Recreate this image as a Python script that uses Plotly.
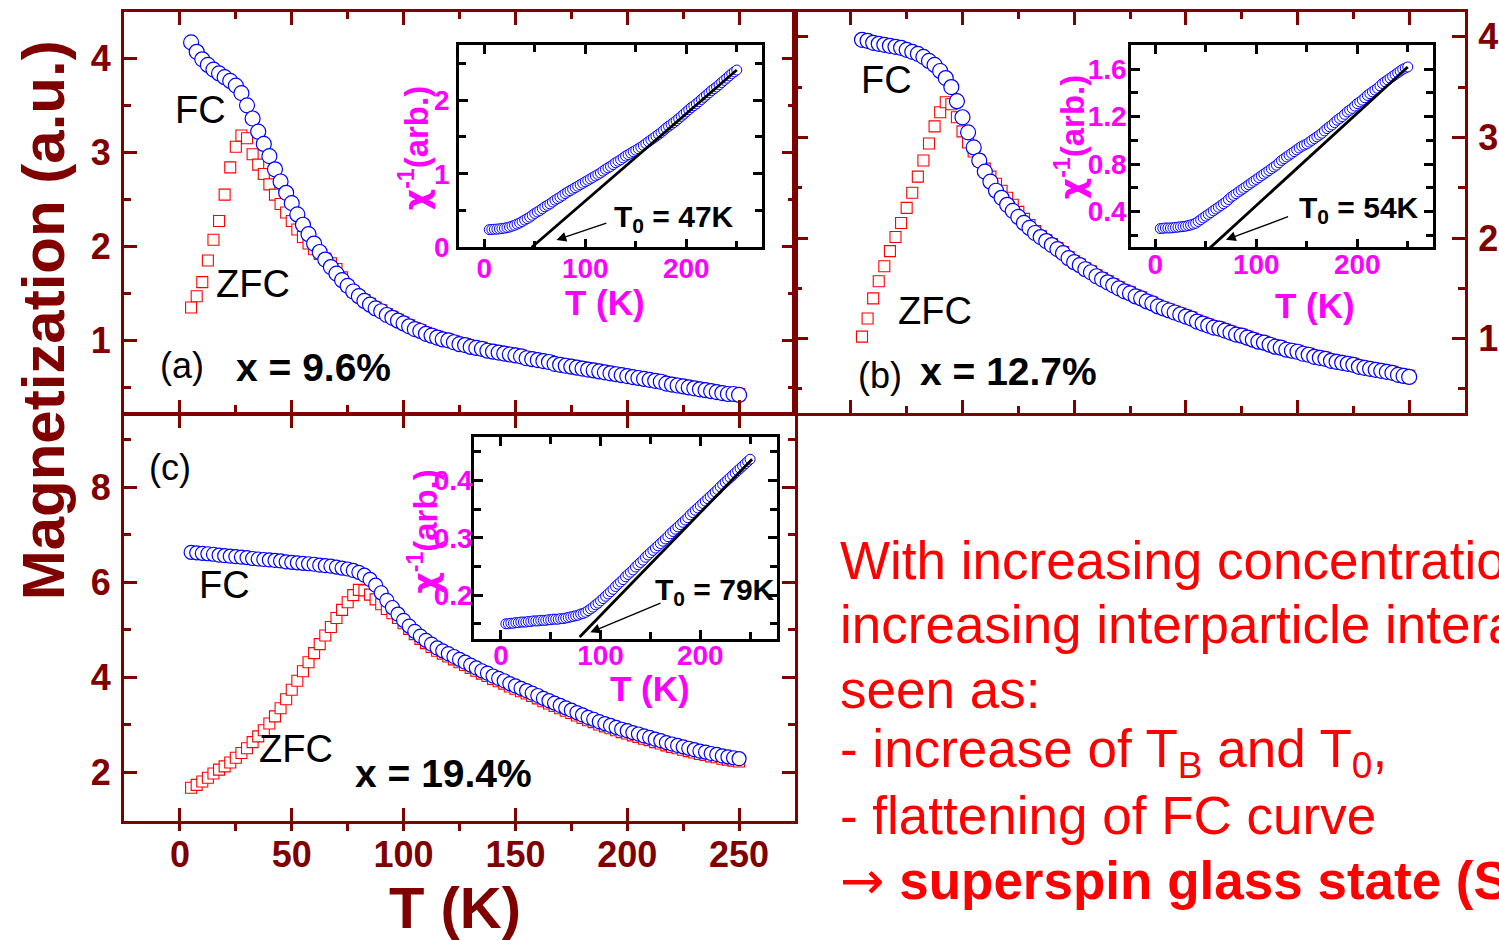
import plotly.graph_objects as go

W, H = 1499, 940          # reference picture size (coordinates below are in its pixels)
FIG_H = 957               # layout height that lands at 940 px in the captured picture
FONT = "Liberation Sans, Arial, sans-serif"
DR = "#800000"
MAG = "#ff00ff"

# ---------------- data ----------------
T_MAIN = [5, 7.5, 10, 12.5, 15, 17.5, 20, 22.5, 25, 27.5,
          30, 32.5, 35, 37.5, 40, 42.5, 45, 47.5, 50, 52.5,
          55, 57.5, 60, 62.5, 65, 67.5, 70, 72.5, 75, 77.5,
          80, 82.5, 85, 87.5, 90, 92.5, 95, 97.5, 100, 102.5,
          105, 107.5, 110, 112.5, 115, 117.5, 120, 122.5, 125, 127.5,
          130, 132.5, 135, 137.5, 140, 142.5, 145, 147.5, 150, 152.5,
          155, 157.5, 160, 162.5, 165, 167.5, 170, 172.5, 175, 177.5,
          180, 182.5, 185, 187.5, 190, 192.5, 195, 197.5, 200, 202.5,
          205, 207.5, 210, 212.5, 215, 217.5, 220, 222.5, 225, 227.5,
          230, 232.5, 235, 237.5, 240, 242.5, 245, 247.5, 250]

FC_A = [4.17, 4.07, 3.99, 3.93, 3.88, 3.84, 3.80, 3.76, 3.71, 3.63,
        3.50, 3.36, 3.22, 3.09, 2.96, 2.82, 2.69, 2.57, 2.46, 2.34,
        2.23, 2.13, 2.03, 1.94, 1.86, 1.78, 1.71, 1.64, 1.58, 1.52,
        1.47, 1.42, 1.38, 1.34, 1.31, 1.27, 1.24, 1.21, 1.18, 1.15,
        1.12, 1.10, 1.07, 1.05, 1.03, 1.01, 1.00, 0.98, 0.96, 0.95,
        0.93, 0.92, 0.91, 0.89, 0.88, 0.87, 0.86, 0.85, 0.84, 0.83,
        0.81, 0.80, 0.79, 0.78, 0.77, 0.75, 0.74, 0.73, 0.72, 0.71,
        0.70, 0.69, 0.68, 0.67, 0.66, 0.65, 0.64, 0.63, 0.62, 0.61,
        0.60, 0.59, 0.58, 0.57, 0.56, 0.54, 0.53, 0.52, 0.51, 0.50,
        0.49, 0.48, 0.47, 0.46, 0.45, 0.44, 0.43, 0.43, 0.42]

ZFC_A = [1.35, 1.47, 1.62, 1.85, 2.07, 2.27, 2.55, 2.84, 3.06, 3.18,
         3.15, 2.98, 2.87, 2.77, 2.66, 2.55, 2.45, 2.36, 2.27, 2.18,
         2.10, 2.03, 1.97, 1.92, 1.87, 1.82, 1.76, 1.67, 1.58, 1.52,
         1.47, 1.43, 1.39, 1.35, 1.32, 1.28, 1.25, 1.22, 1.19, 1.16,
         1.13, 1.11, 1.08, 1.06, 1.04, 1.02, 1.01, 0.99, 0.97, 0.96,
         0.94, 0.93, 0.92, 0.90, 0.89, 0.88, 0.87, 0.86, 0.85, 0.84,
         0.82, 0.81, 0.80, 0.79, 0.78, 0.76, 0.75, 0.74, 0.73, 0.72,
         0.71, 0.70, 0.69, 0.68, 0.67, 0.66, 0.65, 0.64, 0.63, 0.62,
         0.61, 0.60, 0.59, 0.58, 0.57, 0.55, 0.54, 0.53, 0.52, 0.51,
         0.50, 0.49, 0.48, 0.47, 0.46, 0.45, 0.44, 0.44, 0.43]

FC_B = [3.97, 3.96, 3.94, 3.93, 3.92, 3.91, 3.90, 3.89, 3.87, 3.85,
        3.83, 3.80, 3.76, 3.72, 3.66, 3.59, 3.50, 3.36, 3.20, 3.05,
        2.90, 2.77, 2.66, 2.56, 2.47, 2.40, 2.33, 2.27, 2.21, 2.15,
        2.10, 2.05, 2.01, 1.97, 1.93, 1.89, 1.85, 1.80, 1.76, 1.73,
        1.69, 1.66, 1.62, 1.59, 1.56, 1.53, 1.50, 1.47, 1.45, 1.42,
        1.40, 1.37, 1.35, 1.32, 1.30, 1.28, 1.26, 1.24, 1.22, 1.20,
        1.17, 1.15, 1.13, 1.11, 1.10, 1.08, 1.06, 1.04, 1.03, 1.01,
        0.99, 0.97, 0.96, 0.94, 0.92, 0.91, 0.89, 0.88, 0.87, 0.85,
        0.84, 0.82, 0.81, 0.80, 0.78, 0.77, 0.76, 0.75, 0.74, 0.72,
        0.71, 0.70, 0.69, 0.68, 0.67, 0.66, 0.64, 0.63, 0.62]

ZFC_B = [1.02, 1.20, 1.40, 1.57, 1.72, 1.87, 2.01, 2.15, 2.30, 2.45,
         2.61, 2.77, 2.94, 3.11, 3.25, 3.35, 3.33, 3.20, 3.06, 2.95,
         2.86, 2.77, 2.69, 2.61, 2.54, 2.47, 2.40, 2.33, 2.26, 2.19,
         2.13, 2.07, 2.02, 1.98, 1.94, 1.90, 1.86, 1.81, 1.77, 1.74,
         1.70, 1.67, 1.63, 1.60, 1.57, 1.54, 1.51, 1.48, 1.46, 1.43,
         1.41, 1.38, 1.36, 1.33, 1.31, 1.29, 1.27, 1.25, 1.23, 1.21,
         1.18, 1.16, 1.14, 1.12, 1.11, 1.09, 1.07, 1.05, 1.04, 1.02,
         1.00, 0.98, 0.97, 0.95, 0.93, 0.92, 0.90, 0.89, 0.88, 0.86,
         0.85, 0.83, 0.82, 0.81, 0.79, 0.78, 0.77, 0.76, 0.75, 0.73,
         0.72, 0.71, 0.70, 0.69, 0.68, 0.67, 0.65, 0.64, 0.63]

FC_C = [6.63, 6.62, 6.61, 6.60, 6.59, 6.57, 6.56, 6.55, 6.54, 6.53,
        6.52, 6.50, 6.49, 6.48, 6.47, 6.46, 6.45, 6.43, 6.42, 6.41,
        6.40, 6.39, 6.38, 6.36, 6.35, 6.34, 6.32, 6.30, 6.28, 6.25,
        6.21, 6.15, 6.06, 5.94, 5.78, 5.62, 5.47, 5.33, 5.20, 5.08,
        4.97, 4.87, 4.78, 4.70, 4.62, 4.56, 4.50, 4.44, 4.38, 4.32,
        4.26, 4.20, 4.14, 4.09, 4.03, 3.98, 3.93, 3.87, 3.82, 3.77,
        3.72, 3.67, 3.62, 3.56, 3.51, 3.46, 3.41, 3.36, 3.31, 3.26,
        3.21, 3.16, 3.12, 3.07, 3.03, 2.99, 2.95, 2.91, 2.88, 2.84,
        2.81, 2.77, 2.74, 2.70, 2.67, 2.63, 2.60, 2.57, 2.54, 2.51,
        2.48, 2.45, 2.43, 2.40, 2.38, 2.35, 2.33, 2.31, 2.29]

ZFC_C = [1.68, 1.74, 1.81, 1.89, 1.98, 2.06, 2.13, 2.21, 2.31, 2.41,
         2.51, 2.64, 2.76, 2.89, 3.03, 3.18, 3.35, 3.54, 3.74, 3.93,
         4.13, 4.32, 4.51, 4.70, 4.88, 5.06, 5.25, 5.42, 5.58, 5.73,
         5.84, 5.83, 5.74, 5.64, 5.54, 5.44, 5.35, 5.25, 5.14, 5.02,
         4.91, 4.81, 4.72, 4.64, 4.56, 4.50, 4.44, 4.38, 4.32, 4.26,
         4.20, 4.14, 4.08, 4.03, 3.97, 3.92, 3.87, 3.81, 3.76, 3.71,
         3.66, 3.61, 3.56, 3.50, 3.45, 3.40, 3.35, 3.30, 3.25, 3.20,
         3.15, 3.10, 3.06, 3.01, 2.97, 2.93, 2.89, 2.85, 2.82, 2.78,
         2.75, 2.71, 2.68, 2.64, 2.61, 2.57, 2.54, 2.51, 2.48, 2.45,
         2.42, 2.39, 2.37, 2.34, 2.32, 2.29, 2.27, 2.25, 2.23]

# inverse susceptibility (insets), same temperature grid
CHI_A = [0.240, 0.242, 0.245, 0.247, 0.250, 0.255, 0.260, 0.267, 0.275, 0.287,
         0.300, 0.315, 0.330, 0.350, 0.370, 0.390, 0.410, 0.435, 0.460, 0.480,
         0.500, 0.525, 0.550, 0.570, 0.590, 0.615, 0.640, 0.660, 0.680, 0.705,
         0.730, 0.750, 0.770, 0.790, 0.810, 0.830, 0.850, 0.870, 0.890, 0.910,
         0.930, 0.950, 0.970, 0.990, 1.010, 1.035, 1.060, 1.080, 1.100, 1.125,
         1.150, 1.170, 1.190, 1.215, 1.240, 1.260, 1.280, 1.300, 1.320, 1.340,
         1.360, 1.385, 1.410, 1.435, 1.460, 1.485, 1.510, 1.535, 1.560, 1.590,
         1.620, 1.645, 1.670, 1.695, 1.720, 1.750, 1.780, 1.810, 1.840, 1.870,
         1.900, 1.925, 1.950, 1.980, 2.010, 2.040, 2.070, 2.100, 2.130, 2.155,
         2.180, 2.210, 2.240, 2.270, 2.300, 2.330, 2.360, 2.385, 2.410]

CHI_B = [0.255, 0.257, 0.260, 0.260, 0.260, 0.262, 0.265, 0.267, 0.270, 0.272,
         0.275, 0.280, 0.285, 0.292, 0.300, 0.315, 0.330, 0.345, 0.360, 0.375,
         0.390, 0.405, 0.420, 0.435, 0.450, 0.465, 0.480, 0.500, 0.520, 0.535,
         0.550, 0.565, 0.580, 0.595, 0.610, 0.625, 0.640, 0.655, 0.670, 0.685,
         0.700, 0.715, 0.730, 0.745, 0.760, 0.775, 0.790, 0.810, 0.830, 0.845,
         0.860, 0.875, 0.890, 0.905, 0.920, 0.935, 0.950, 0.960, 0.970, 0.985,
         1.000, 1.015, 1.030, 1.045, 1.060, 1.080, 1.100, 1.115, 1.130, 1.150,
         1.170, 1.185, 1.200, 1.220, 1.240, 1.255, 1.270, 1.290, 1.310, 1.325,
         1.340, 1.360, 1.380, 1.395, 1.410, 1.425, 1.440, 1.460, 1.480, 1.495,
         1.510, 1.525, 1.540, 1.555, 1.570, 1.585, 1.600, 1.610, 1.620]

CHI_C = [0.150, 0.150, 0.151, 0.151, 0.152, 0.152, 0.153, 0.153, 0.153, 0.154,
         0.154, 0.155, 0.155, 0.155, 0.156, 0.156, 0.156, 0.157, 0.157, 0.158,
         0.158, 0.158, 0.159, 0.159, 0.160, 0.161, 0.162, 0.163, 0.164, 0.165,
         0.167, 0.168, 0.170, 0.173, 0.176, 0.179, 0.183, 0.186, 0.190, 0.194,
         0.198, 0.202, 0.206, 0.210, 0.215, 0.219, 0.223, 0.227, 0.232, 0.236,
         0.240, 0.244, 0.249, 0.253, 0.257, 0.261, 0.266, 0.270, 0.274, 0.278,
         0.282, 0.286, 0.290, 0.294, 0.298, 0.302, 0.307, 0.311, 0.315, 0.319,
         0.323, 0.327, 0.331, 0.335, 0.340, 0.344, 0.348, 0.352, 0.356, 0.360,
         0.364, 0.368, 0.372, 0.376, 0.380, 0.384, 0.389, 0.393, 0.397, 0.401,
         0.405, 0.409, 0.413, 0.417, 0.421, 0.425, 0.429, 0.433, 0.437]

FIT_A_T, FIT_A = [47, 250], [0.0, 2.41]
FIT_B_T, FIT_B = [54, 250], [0.09, 1.62]
FIT_C_T, FIT_C = [79, 252], [0.127, 0.437]

T0_LABELS = ["47K", "54K", "79K"]
X_LABELS = ["x = 9.6%", "x = 12.7%", "x = 19.4%"]

# ---------------- figure ----------------
fig = go.Figure()


def fc_marker(size, lw=1.2):
    return dict(symbol="circle", size=size, color="white",
                line=dict(color="#0000ff", width=lw))


def zfc_marker(size):
    return dict(symbol="square", size=size, color="white",
                line=dict(color="#ff0000", width=1.1))


for xa, ya, zfc, fc, cs, ss in [("x", "y", ZFC_A, FC_A, 15, 11),
                                ("x2", "y2", ZFC_B, FC_B, 15, 11),
                                ("x3", "y3", ZFC_C, FC_C, 14, 11)]:
    fig.add_trace(go.Scatter(x=T_MAIN, y=zfc, mode="markers", marker=zfc_marker(ss),
                             xaxis=xa, yaxis=ya, cliponaxis=False))
    fig.add_trace(go.Scatter(x=T_MAIN, y=fc, mode="markers", marker=fc_marker(cs),
                             xaxis=xa, yaxis=ya, cliponaxis=False))

for xa, ya, chi, ft, fv in [("x4", "y4", CHI_A, FIT_A_T, FIT_A),
                            ("x5", "y5", CHI_B, FIT_B_T, FIT_B),
                            ("x6", "y6", CHI_C, FIT_C_T, FIT_C)]:
    fig.add_trace(go.Scatter(x=T_MAIN, y=chi, mode="markers", marker=fc_marker(10, 1),
                             xaxis=xa, yaxis=ya, cliponaxis=False))
    fig.add_trace(go.Scatter(x=ft, y=fv, mode="lines", line=dict(color="black", width=2.8),
                             xaxis=xa, yaxis=ya))


def dom_x(a, b):
    return [a / W, b / W]


def dom_y(top, bottom):
    return [1 - bottom / H, 1 - top / H]


def main_axis(domain, rng, dtick, mdtick, labels, anchor, minor_ticks="inside",
              side=None, standoff=3):
    d = dict(domain=domain, range=rng, anchor=anchor, showline=True, linecolor=DR,
             linewidth=3, mirror="ticks", ticks="inside", ticklen=13, tickwidth=3,
             tickcolor=DR, tick0=0, dtick=dtick, showgrid=False, zeroline=False,
             showticklabels=labels, ticklabelstandoff=standoff,
             tickfont=dict(family=FONT, size=36, color=DR, weight="bold"),
             minor=dict(tick0=0, dtick=mdtick, ticks=minor_ticks, ticklen=7, tickwidth=3,
                        tickcolor=DR, showgrid=False))
    if side:
        d["side"] = side
    return d


def inset_axis(domain, rng, dtick, mdtick, anchor, fmt=None, standoff=0):
    d = dict(domain=domain, range=rng, anchor=anchor, showline=True, linecolor="black",
             linewidth=2.5, mirror="ticks", ticks="inside", ticklen=9, tickwidth=2.5,
             tickcolor="black", tick0=0, dtick=dtick, showgrid=False, zeroline=False,
             ticklabelstandoff=standoff,
             tickfont=dict(family=FONT, size=28, color=MAG, weight="bold"),
             minor=dict(tick0=0, dtick=mdtick, ticks="inside", ticklen=7, tickwidth=2.5,
                        tickcolor="black", showgrid=False))
    if fmt:
        d["tickformat"] = fmt
    return d


A_X, B_X = dom_x(124, 795), dom_x(795, 1465)
AB_Y, C_Y = dom_y(12, 413), dom_y(415, 820)

fig.update_layout(
    width=W, height=FIG_H, margin=dict(l=0, r=0, t=0, b=0),
    paper_bgcolor="white", plot_bgcolor="rgba(0,0,0,0)", showlegend=False,
    font=dict(family=FONT),
    xaxis=main_axis(A_X, [-25, 275], 50, 25, False, "y"),
    yaxis=main_axis(AB_Y, [0.223, 4.493], 1, 0.5, True, "x"),
    xaxis2=main_axis(B_X, [-25, 275], 50, 25, False, "y2"),
    yaxis2=main_axis(AB_Y, [0.257, 4.246], 1, 0.5, True, "x2", side="right"),
    xaxis3=main_axis(A_X, [-25, 275], 50, 25, True, "y3", minor_ticks="outside", standoff=0),
    yaxis3=main_axis(C_Y, [0.983, 9.509], 2, 1, True, "x3"),
    xaxis4=inset_axis(dom_x(459, 762), [-25, 275], 100, 50, "y4", standoff=-6),
    yaxis4=inset_axis(dom_y(45, 247), [0, 2.75], 1, 0.5, "x4", standoff=1),
    xaxis5=inset_axis(dom_x(1131, 1433), [-24, 275], 100, 50, "y5", standoff=-10),
    yaxis5=inset_axis(dom_y(45, 247), [0.097, 1.805], 0.4, 0.2, "x5", fmt=".1f", standoff=-4),
    xaxis6=inset_axis(dom_x(474, 777), [-27, 277], 100, 50, "y6", standoff=-10),
    yaxis6=inset_axis(dom_y(437, 638), [0.124, 0.475], 0.1, 0.05, "x6", fmt=".1f", standoff=-7),
)

anns = []


def ann(text, x, y, size, color="black", bold=False, xanchor="center", angle=0):
    anns.append(dict(text=text, x=x / W, y=1 - y / H, xref="paper", yref="paper",
                     xanchor=xanchor, yanchor="middle", showarrow=False, textangle=angle,
                     font=dict(family=FONT, size=size, color=color,
                               weight="bold" if bold else "normal")))


# main axis titles
ann("Magnetization (a.u.)", 43, 320, 60, DR, True, angle=-90)
ann("T (K)", 455, 907, 58, DR, True)

# panel labels
for txt, x, y, s, b in [("FC", 200, 110, 38, False), ("ZFC", 253, 284, 38, False),
                        ("(a)", 182, 365, 36, False), (X_LABELS[0], 313, 367, 39, True),
                        ("FC", 886, 80, 38, False), ("ZFC", 935, 311, 38, False),
                        ("(b)", 880, 375, 36, False), (X_LABELS[1], 1009, 371, 39, True),
                        ("(c)", 170, 467, 36, False), ("FC", 224, 584, 38, False),
                        ("ZFC", 296, 748, 38, False), (X_LABELS[2], 443, 773, 39, True)]:
    ann(txt, x, y, s, "black", b)

# inset titles
CHI = '<span style="font-family:DejaVu Sans">χ</span><sup>-1</sup>(arb.)'
for x, y in [(414, 148), (1070, 137), (424, 531)]:
    ann(CHI, x, y, 33, MAG, True, angle=-90)
for x, y in [(605, 302), (1315, 305), (650, 688)]:
    ann("T (K)", x, y, 35, MAG, True)

# T0 labels
for lab, x, y in [(T0_LABELS[0], 612, 218), (T0_LABELS[1], 1297, 209), (T0_LABELS[2], 653, 591)]:
    ann("T<sub>0</sub> = " + lab, x, y, 30, "black", True, xanchor="left")

# arrows (inset data coordinates)
for xa, ya, hx, hy, tx, ty in [("x4", "y4", 71.5, 0.10, 122.4, 0.335),
                               ("x5", "y5", 70, 0.16, 133, 0.36),
                               ("x6", "y6", 89.7, 0.135, 161.6, 0.187)]:
    anns.append(dict(text="", x=hx, y=hy, ax=tx, ay=ty, xref=xa, yref=ya, axref=xa, ayref=ya,
                     showarrow=True, arrowhead=2, arrowsize=1.4, arrowwidth=1.4,
                     arrowcolor="black"))

# red text block on the right
RED = "#ff0000"
ARROW = '<span style="font-family:DejaVu Sans">→</span>'
lines = [("With increasing concentration, i.e.", 560),
         ("increasing interparticle interactions,", 624),
         ("seen as:", 689),
         ("- increase of T<sub>B</sub> and T<sub>0</sub>,", 752),
         ("- flattening of FC curve", 815),
         (ARROW + " <b>superspin glass state (SSG)</b>", 880)]
for txt, y in lines:
    ann(txt, 838, y, 53, RED, False, xanchor="left")

fig.update_layout(annotations=anns)

fig.write_html("out.html")
